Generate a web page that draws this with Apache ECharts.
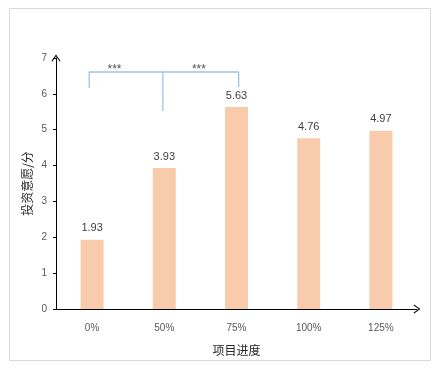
<!DOCTYPE html>
<html><head><meta charset="utf-8">
<script src="https://cdn.jsdelivr.net/npm/echarts@6/dist/echarts.min.js"></script>
<style>html,body{margin:0;padding:0;background:#fff}#c{width:438px;height:369px}</style>
</head><body><div id="c"></div>
<script>
var categories = ['0%', '50%', '75%', '100%', '125%'];
var values = [1.93, 3.93, 5.63, 4.76, 4.97];
var yTicks = [0, 1, 2, 3, 4, 5, 6, 7];
// significance bracket (x in category index units, y in score units)
var bracketMain = [[-0.04, 6.16], [-0.04, 6.61], [2.03, 6.61], [2.03, 6.19]];
var bracketMid = [[0.98, 6.61], [0.98, 5.52]];
var starMarks = [[0.31, 6.63], [1.48, 6.63]];
var starText = '***';

var chart = echarts.init(document.getElementById('c'), null, {renderer: 'canvas'});
var chev = 'path://M5,0 L10,7 L9,7.6 L5,1.8 L1,7.6 L0,7 Z';
var font = '"Liberation Sans", Arial, sans-serif';
chart.setOption({
  animation: false,
  backgroundColor: '#fff',
  graphic: [{type: 'rect', shape: {x: 9.5, y: 8.5, width: 421, height: 352}, style: {fill: 'none', stroke: '#d9d9d9', lineWidth: 1}}],
  grid: {left: 56, right: 21, top: 58, bottom: 60, containLabel: false},
  xAxis: [{
    type: 'category', data: categories,
    axisLine: {show: true, onZero: false, symbol: ['none', chev], symbolSize: [9, 7], lineStyle: {color: '#000', width: 1}},
    axisTick: {show: false},
    axisLabel: {color: '#595959', fontSize: 10, margin: 14, fontFamily: font},
    name: '项目进度', nameLocation: 'middle', nameGap: 35, nameMoveOverlap: false,
    nameTextStyle: {color: '#262626', fontSize: 12, fontFamily: '"Noto Sans CJK SC"'}
  }, {
    type: 'value', min: -0.5, max: 4.5, show: false
  }],
  yAxis: {
    type: 'value', min: 0, max: 7, interval: 1,
    axisLine: {show: true, onZero: false, symbol: ['none', chev], symbolSize: [9, 7], lineStyle: {color: '#000', width: 1}},
    axisTick: {show: true, length: 3, lineStyle: {color: '#000'}},
    splitLine: {show: false},
    axisLabel: {color: '#595959', fontSize: 10, margin: 9, fontFamily: font,
      formatter: function (v) { return yTicks.indexOf(v) >= 0 ? String(v) : ''; }},
    name: '投资意愿/分', nameLocation: 'middle', nameGap: 23, nameMoveOverlap: false,
    nameTextStyle: {color: '#262626', fontSize: 12, fontFamily: '"Noto Sans CJK SC"'}
  },
  series: [{
    type: 'bar', data: values, barWidth: 23,
    itemStyle: {color: '#F8CBAD'},
    label: {show: true, position: 'top', distance: 6, color: '#404040', fontSize: 11, fontFamily: font}
  }, {
    type: 'line', xAxisIndex: 1, data: bracketMain, symbol: 'none',
    lineStyle: {color: '#9DC3E6', width: 1.3}
  }, {
    type: 'line', xAxisIndex: 1, data: bracketMid, symbol: 'none',
    lineStyle: {color: '#9DC3E6', width: 1.3}
  }, {
    type: 'scatter', xAxisIndex: 1, data: starMarks, symbolSize: 0,
    label: {show: true, formatter: starText, position: 'inside', verticalAlign: 'bottom', offset: [0, 4], color: '#262626', fontSize: 12, fontFamily: font}
  }]
});
</script></body></html>
